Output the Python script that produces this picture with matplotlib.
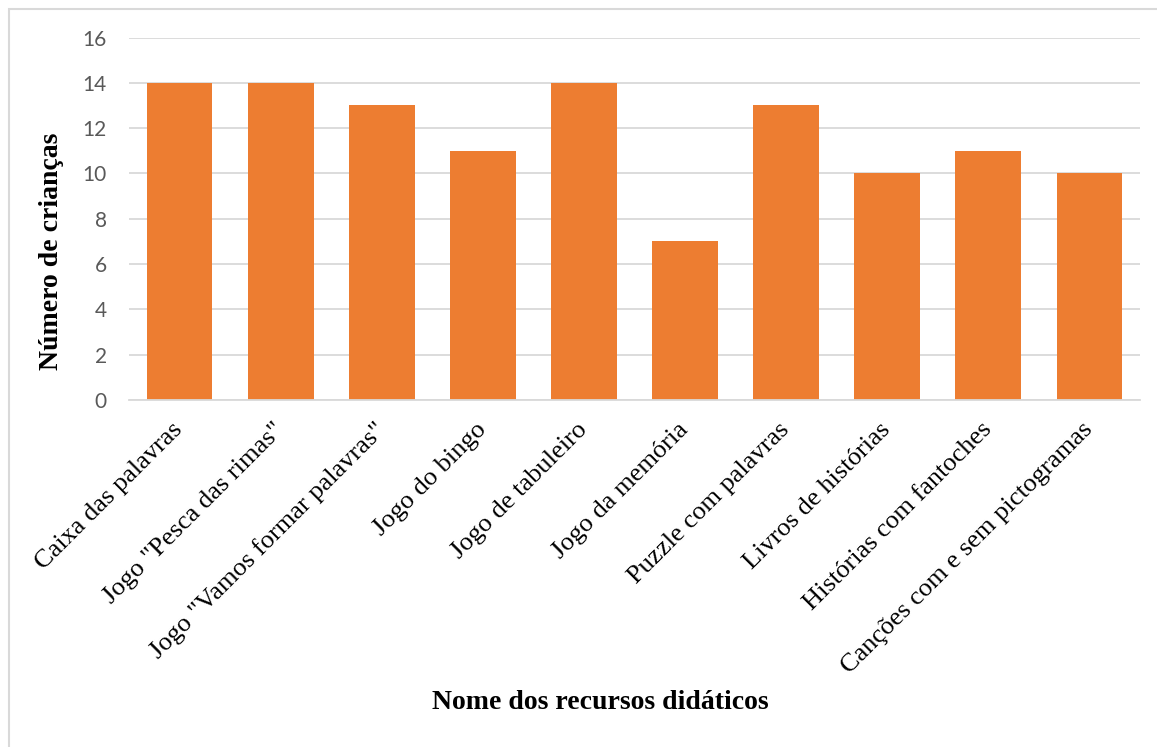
import matplotlib
matplotlib.use("Agg")
import matplotlib.pyplot as plt
from matplotlib.patches import Rectangle

recursos = ["Caixa das palavras", 'Jogo "Pesca das rimas"', 'Jogo "Vamos formar palavras"',
            "Jogo do bingo", "Jogo de tabuleiro", "Jogo da memória", "Puzzle com palavras",
            "Livros de histórias", "Histórias com fantoches", "Canções com e sem pictogramas"]
criancas = [14, 14, 13, 11, 14, 7, 13, 10, 11, 10]
y_ticks = [0, 2, 4, 6, 8, 10, 12, 14, 16]

W, H = 1157, 747
fig = plt.figure(figsize=(W / 100, H / 100), dpi=100)
ax = fig.add_axes([129 / W, 1 - 400 / H, (1140 - 129) / W, (400 - 37.5) / H])

x = range(len(recursos))
ax.bar(x, criancas, width=0.65, color="#ED7D31", zorder=2)
ax.set_xlim(-0.5, len(recursos) - 0.5)
ax.set_ylim(0, 16)
ax.set_yticks(y_ticks)
ax.grid(axis="y", color="#D9D9D9", lw=1.3, zorder=0)
for s in ["top", "right", "left"]:
    ax.spines[s].set_visible(False)
ax.spines["bottom"].set_color("#D9D9D9")
ax.spines["bottom"].set_linewidth(1.3)
ax.tick_params(length=0)
ax.tick_params(axis="y", pad=16, labelcolor="#595959")
for t in ax.get_yticklabels():
    t.set_fontfamily("Lato")
    t.set_fontsize(15)

ax.set_xticks(list(x))
ax.set_xticklabels(recursos, rotation=45, ha="right", va="center",
                   rotation_mode="anchor", family="Liberation Serif", fontsize=19)
ax.tick_params(axis="x", pad=19)

ax.set_ylabel("Número de crianças", family="Liberation Serif", fontsize=20,
              fontweight="bold")
ax.yaxis.set_label_coords(-0.064, 0.411)
ax.set_xlabel("Nome dos recursos didáticos", family="Liberation Serif", fontsize=20,
              fontweight="bold")
ax.xaxis.set_label_coords(0.466, -0.80)

# chart-area border (cropped on the right and bottom)
fig.patches.append(Rectangle((8.5 / W, -0.1), 1.2, (H - 8.5) / H + 0.1,
                             transform=fig.transFigure, fill=False,
                             edgecolor="#D9D9D9", lw=1.5))

fig.savefig("out.png", dpi=100)
